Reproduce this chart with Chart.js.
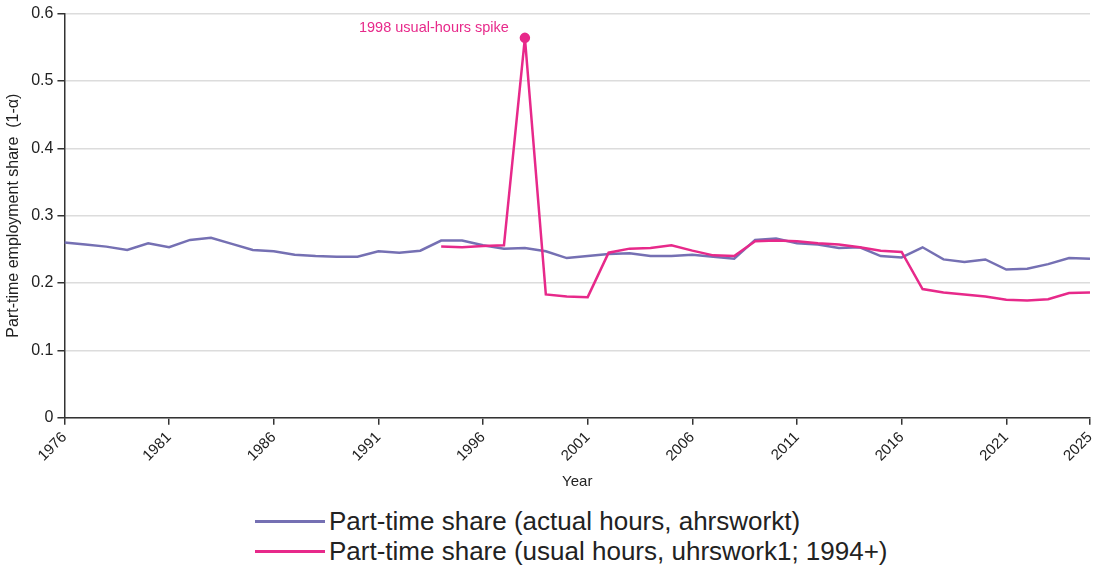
<!DOCTYPE html>
<html>
<head>
<meta charset="utf-8">
<script src="https://cdn.jsdelivr.net/npm/chart.js@4.4.1/dist/chart.umd.min.js"></script>
<style>
  html, body { margin: 0; padding: 0; background: #fff; }
  #wrap { width: 1102px; height: 495px; position: relative; }
  #legend { font-family: "Liberation Sans", Arial, sans-serif; font-size: 26px; color: #222;
            margin-left: 255px; margin-top: 11px; line-height: 30px; }
  #legend .row { display: flex; align-items: center; white-space: nowrap; }
  #legend .swatch { width: 70px; height: 3px; margin-right: 4px; }
</style>
</head>
<body>
<div id="wrap"><canvas id="chart"></canvas></div>
<div id="legend"></div>
<script>
// Years on the x axis
const years = [];
for (let y = 1976; y <= 2025; y++) years.push(y);

const xTicks = [1976, 1981, 1986, 1991, 1996, 2001, 2006, 2011, 2016, 2021, 2025];

// Part-time share from actual hours (1976-2025)
const actualShare = [
  0.260, 0.257, 0.254, 0.249, 0.259, 0.253, 0.264, 0.267, 0.258, 0.249,
  0.247, 0.242, 0.240, 0.239, 0.239, 0.247, 0.245, 0.248, 0.263, 0.263,
  0.256, 0.251, 0.252, 0.247, 0.237, 0.240, 0.243, 0.244, 0.240, 0.240,
  0.242, 0.239, 0.236, 0.264, 0.266, 0.259, 0.257, 0.252, 0.253, 0.240,
  0.238, 0.253, 0.235, 0.231, 0.235, 0.220, 0.221, 0.228, 0.237, 0.236
];

// Part-time share from usual hours (1994-2025)
const usualStart = 1994;
const usualShare = [
  0.254, 0.253, 0.255, 0.256, 0.564, 0.183, 0.180, 0.179, 0.245, 0.251,
  0.252, 0.256, 0.248, 0.241, 0.240, 0.262, 0.263, 0.262, 0.259, 0.257,
  0.253, 0.248, 0.246, 0.191, 0.186, 0.183, 0.180, 0.175, 0.174, 0.176,
  0.185, 0.186
];

const spikeYear = 1998;
const spikeLabel = '1998 usual-hours spike';

const purple = '#7570b3';
const pink = '#e7298a';
const font = '"Liberation Sans", Arial, sans-serif';

const actualPts = years.map((y, i) => ({x: y, y: actualShare[i]}));
const usualPts = usualShare.map((v, i) => ({x: usualStart + i, y: v}));

// label next to the spike point
const spikeNote = {
  id: 'spikeNote',
  afterDatasetsDraw(chart) {
    const meta = chart.getDatasetMeta(1);
    const idx = usualPts.findIndex(p => p.x === spikeYear);
    const pt = meta.data[idx];
    if (!pt) return;
    const ctx = chart.ctx;
    ctx.save();
    ctx.font = '14.5px ' + font;
    ctx.fillStyle = pink;
    ctx.textAlign = 'right';
    ctx.textBaseline = 'middle';
    ctx.fillText(spikeLabel, pt.x - 16, pt.y - 10);
    ctx.restore();
  }
};

const chart = new Chart(document.getElementById('chart'), {
  type: 'line',
  data: {
    datasets: [
      {
        label: 'Part-time share (actual hours, ahrsworkt)',
        data: actualPts,
        borderColor: purple,
        backgroundColor: purple,
        borderWidth: 2.5,
        pointRadius: 0,
        tension: 0,
        order: 1
      },
      {
        label: 'Part-time share (usual hours, uhrswork1; 1994+)',
        data: usualPts,
        borderColor: pink,
        backgroundColor: pink,
        borderWidth: 2.5,
        pointRadius: ctx => (ctx.raw && ctx.raw.x === spikeYear) ? 4 : 0,
        tension: 0,
        order: 0
      }
    ]
  },
  options: {
    responsive: true,
    maintainAspectRatio: false,
    animation: false,
    layout: { padding: { top: 13, right: 12, left: 0, bottom: 0 } },
    plugins: {
      legend: { display: false },
      tooltip: { enabled: false }
    },
    scales: {
      x: {
        type: 'linear',
        min: 1976,
        max: 2025,
        afterBuildTicks: axis => { axis.ticks = xTicks.map(v => ({value: v})); },
        afterFit: axis => { axis.paddingRight = 0; },
        ticks: {
          autoSkip: false,
          minRotation: 45,
          maxRotation: 45,
          color: '#222',
          font: { family: font, size: 15 },
          padding: 4,
          callback: v => String(v)
        },
        grid: { drawOnChartArea: false, drawTicks: true, tickLength: 7, color: '#333', tickColor: '#333', lineWidth: 1.5 },
        border: { color: '#333', width: 1.5 },
        title: { display: true, text: 'Year', color: '#222', font: { family: font, size: 15 }, padding: { top: 4 } }
      },
      y: {
        min: 0,
        max: 0.6,
        ticks: {
          stepSize: 0.1,
          color: '#222',
          font: { family: font, size: 16 },
          padding: 4,
          callback: v => String(Math.round(v * 10) / 10)
        },
        grid: { color: '#dcdcdc', lineWidth: 1.5, tickLength: 7, tickColor: '#333' },
        border: { color: '#333', width: 1.5 },
        title: { display: true, text: 'Part-time employment share  (1-α)', color: '#222', font: { family: font, size: 16 }, padding: { bottom: 4 } }
      }
    }
  },
  plugins: [spikeNote]
});

// legend under the chart, rows aligned at the left
const legendEl = document.getElementById('legend');
chart.data.datasets.forEach(ds => {
  const row = document.createElement('div');
  row.className = 'row';
  const sw = document.createElement('span');
  sw.className = 'swatch';
  sw.style.background = ds.borderColor;
  const txt = document.createElement('span');
  txt.textContent = ds.label;
  row.appendChild(sw);
  row.appendChild(txt);
  legendEl.appendChild(row);
});
</script>
</body>
</html>
